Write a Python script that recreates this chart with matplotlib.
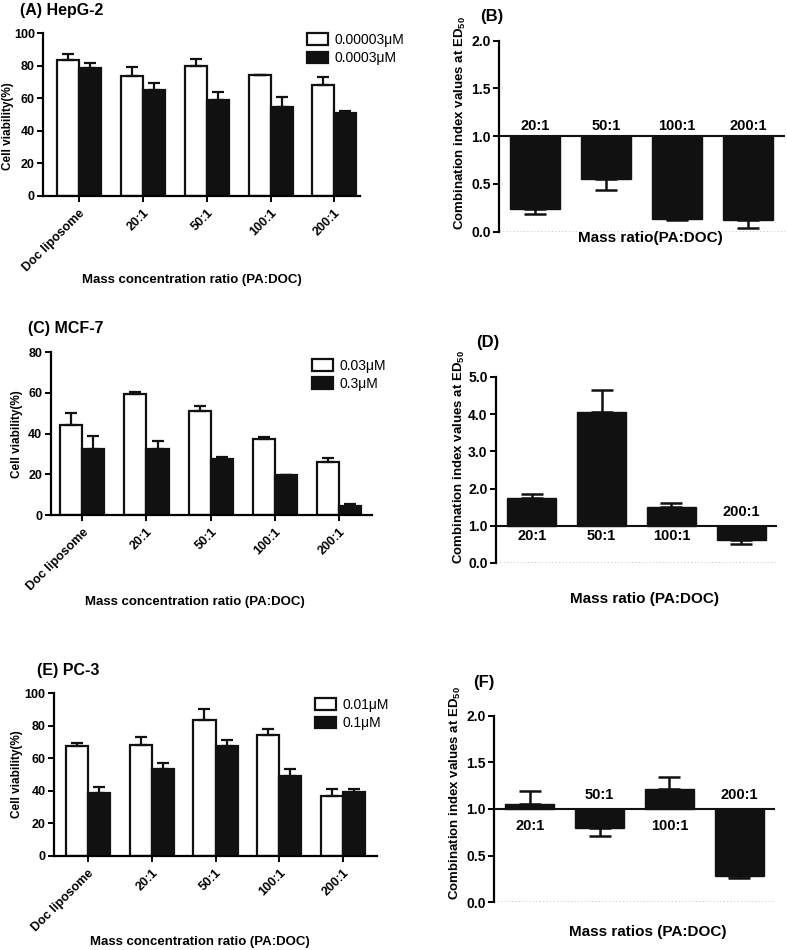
import matplotlib
matplotlib.use("Agg")
import matplotlib.pyplot as plt
import numpy as np
from matplotlib.patches import Patch

plt.rcParams['font.family'] = ['Liberation Sans', 'DejaVu Sans']
plt.rcParams['mathtext.fontset'] = 'custom'
plt.rcParams['mathtext.rm'] = 'Liberation Sans'
plt.rcParams['mathtext.bf'] = 'Liberation Sans:bold'

# ---------------- data ----------------
groups = ["Doc liposome", "20:1", "50:1", "100:1", "200:1"]

hep_low = [83.5, 73.7, 79.6, 74.1, 68.2]
hep_low_err = [3.4, 5.3, 4.7, 0.4, 4.9]
hep_high = [78.4, 65.3, 59.2, 54.3, 51.2]
hep_high_err = [3.4, 4.3, 4.9, 6.7, 0.8]

mcf_low = [44.1, 59.3, 51.1, 37.2, 26.1]
mcf_low_err = [6.1, 1.4, 2.5, 1.2, 1.9]
mcf_high = [32.5, 32.5, 27.4, 19.5, 4.4]
mcf_high_err = [6.5, 3.7, 1.1, 0.2, 1.2]

pc_low = [67.3, 68.1, 83.4, 74.0, 37.0]
pc_low_err = [2.0, 5.1, 6.8, 4.1, 3.9]
pc_high = [38.4, 53.4, 67.5, 49.3, 39.3]
pc_high_err = [3.9, 3.6, 3.7, 3.9, 1.6]

ratios = ["20:1", "50:1", "100:1", "200:1"]
ci_hep = [0.24, 0.555, 0.136, 0.122]
ci_hep_err = [0.05, 0.115, 0.014, 0.08]
ci_mcf = [1.75, 4.05, 1.50, 0.63]
ci_mcf_err = [0.11, 0.59, 0.12, 0.11]
ci_pc = [1.054, 0.80, 1.21, 0.28]
ci_pc_err = [0.136, 0.09, 0.13, 0.02]

hep_legend = ["0.00003μM", "0.0003μM"]
mcf_legend = ["0.03μM", "0.3μM"]
pc_legend = ["0.01μM", "0.1μM"]

# ---------------- layout helpers ----------------
W, H = 787, 950
fig = plt.figure(figsize=(W / 100, H / 100), dpi=100)
INK = '#111111'


def add_axes(l, t, r, b):
    return fig.add_axes([l / W, 1 - b / H, (r - l) / W, (b - t) / H])


def ftext(x, y, s, **kw):
    fig.text(x / W, 1 - y / H, s, **kw)


def viability(ax, low, low_err, high, high_err, ylim, yticks, xlim, legend_labels, leg_xy, ylab_xy):
    x = np.arange(len(groups))
    w = 0.345
    z = np.zeros(len(groups))
    ekw = dict(elinewidth=1.6, capthick=1.6, ecolor=INK)
    ax.bar(x - w / 2, low, w, color='white', edgecolor=INK, linewidth=1.6,
           yerr=[z, low_err], capsize=4.5, error_kw=ekw)
    ax.bar(x + w / 2, high, w, color=INK, edgecolor=INK, linewidth=1.6,
           yerr=[z, high_err], capsize=4.5, error_kw=ekw)
    ax.set_xlim(*xlim)
    ax.set_ylim(*ylim)
    ax.spines[['top', 'right']].set_visible(False)
    for s in ['left', 'bottom']:
        ax.spines[s].set_linewidth(1.6)
    ax.set_yticks(yticks, labels=[str(t) for t in yticks], fontsize=9, fontweight='bold')
    ax.set_xticks(x, labels=groups, rotation=45, ha='right', rotation_mode='anchor',
                  fontsize=9, fontweight='bold')
    ax.tick_params(width=1.4, length=4, pad=2)
    ax.tick_params(axis='x', pad=4)
    ax.set_ylabel("Cell viability(%)", fontsize=8.5, fontweight='bold')
    ax.yaxis.set_label_coords(*ylab_xy)
    handles = [Patch(facecolor='white', edgecolor=INK, linewidth=1.6),
               Patch(facecolor=INK, edgecolor=INK, linewidth=1.6)]
    ax.legend(handles, legend_labels, loc='upper left', bbox_to_anchor=leg_xy,
              frameon=False, fontsize=10, handlelength=1.5, handleheight=0.9,
              handletextpad=0.5, labelspacing=0.3, borderpad=0, borderaxespad=0)


def combination(ax, vals, errs, ylim, yticks, xlim, ylab_xy, above_off, below_off):
    x = np.arange(len(ratios))
    vals = np.array(vals)
    errs = np.array(errs)
    ax.bar(x, vals - 1, 0.7, bottom=1, color=INK, edgecolor=INK, linewidth=1.0, zorder=2)
    lower = np.where(vals < 1, errs, 0)
    upper = np.where(vals >= 1, errs, 0)
    ax.errorbar(x, vals, yerr=[lower, upper], fmt='none', ecolor=INK, elinewidth=1.8,
                capsize=8, capthick=1.8, zorder=3)
    ax.axhline(1, color=INK, lw=1.5, zorder=4)
    ax.axhline(0, color='#222222', lw=1.0, ls=(0, (1, 1.5)), zorder=1)
    ax.set_xlim(*xlim)
    ax.set_ylim(*ylim)
    ax.spines[['top', 'right', 'bottom']].set_visible(False)
    ax.spines['left'].set_linewidth(1.6)
    ax.set_xticks([])
    ax.set_yticks(yticks, labels=[f"{t:.1f}" for t in yticks], fontsize=10, fontweight='bold')
    ax.tick_params(width=1.4, length=4, pad=2)
    ax.set_ylabel(r"Combination index values at ED$_{\mathregular{50}}$", fontsize=9.5, fontweight='bold')
    ax.yaxis.set_label_coords(*ylab_xy)
    for xi, v, lab in zip(x, vals, ratios):
        if v < 1:
            ax.annotate(lab, (xi, 1), xytext=(0, above_off), textcoords='offset points',
                        ha='center', va='bottom', fontsize=10.5, fontweight='bold')
        else:
            ax.annotate(lab, (xi, 1), xytext=(0, -below_off), textcoords='offset points',
                        ha='center', va='top', fontsize=10.5, fontweight='bold')


# ---------------- panels ----------------
axA = add_axes(43.3, 33, 360, 196)
viability(axA, hep_low, hep_low_err, hep_high, hep_high_err, (0, 100), [0, 20, 40, 60, 80, 100],
          (-0.56, 4.40), hep_legend, (0.833, 1.0), (-0.0925, 0.43))
axC = add_axes(50.7, 352.3, 372, 515)
viability(axC, mcf_low, mcf_low_err, mcf_high, mcf_high_err, (0, 80), [0, 20, 40, 60, 80],
          (-0.49, 4.51), mcf_legend, (0.813, 0.96), (-0.086, 0.50))
axE = add_axes(54, 693, 377, 856)
viability(axE, pc_low, pc_low_err, pc_high, pc_high_err, (0, 100), [0, 20, 40, 60, 80, 100],
          (-0.53, 4.53), pc_legend, (0.808, 0.97), (-0.096, 0.50))

axB = add_axes(499, 40.7, 785, 231.7)
combination(axB, ci_hep, ci_hep_err, (0, 2), [0.0, 0.5, 1.0, 1.5, 2.0], (-0.51, 3.52),
            (-0.108, 0.57), 2, 3)
axD = add_axes(496, 377, 777, 563)
combination(axD, ci_mcf, ci_mcf_err, (0, 5), [0.0, 1.0, 2.0, 3.0, 4.0, 5.0], (-0.51, 3.51),
            (-0.103, 0.57), 5, 2)
axF = add_axes(494, 715.7, 775, 902.3)
combination(axF, ci_pc, ci_pc_err, (0, 2), [0.0, 0.5, 1.0, 1.5, 2.0], (-0.51, 3.51),
            (-0.110, 0.583), 5, 7)

# titles
ftext(20, 10, "(A) HepG-2", fontsize=11.5, fontweight='bold', va='center', ha='left')
ftext(28, 328, "(C) MCF-7", fontsize=11.5, fontweight='bold', va='center', ha='left')
ftext(37, 670, "(E) PC-3", fontsize=11.5, fontweight='bold', va='center', ha='left')
ftext(480, 17, "(B)", fontsize=12, fontweight='bold', va='center', ha='left')
ftext(476, 343, "(D)", fontsize=12, fontweight='bold', va='center', ha='left')
ftext(473, 683, "(F)", fontsize=12, fontweight='bold', va='center', ha='left')

# x labels
ftext(192, 280, "Mass concentration ratio (PA:DOC)", fontsize=9.5, fontweight='bold', ha='center', va='center')
ftext(195, 602, "Mass concentration ratio (PA:DOC)", fontsize=9.5, fontweight='bold', ha='center', va='center')
ftext(200, 942, "Mass concentration ratio (PA:DOC)", fontsize=9.5, fontweight='bold', ha='center', va='center')
ftext(650, 238, "Mass ratio(PA:DOC)", fontsize=11, fontweight='bold', ha='center', va='center')
ftext(645, 599, "Mass ratio (PA:DOC)", fontsize=11, fontweight='bold', ha='center', va='center')
ftext(648, 932, "Mass ratios (PA:DOC)", fontsize=11, fontweight='bold', ha='center', va='center')

fig.savefig("out.png", dpi=100)
